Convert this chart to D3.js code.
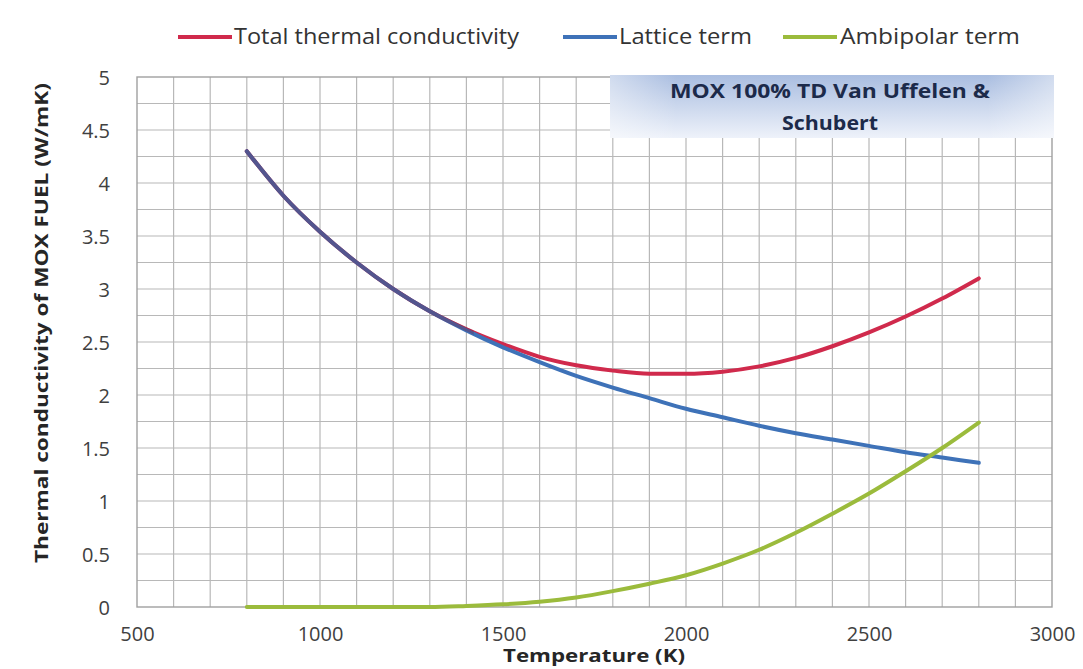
<!DOCTYPE html>
<html>
<head>
<meta charset="utf-8">
<script src="https://cdn.jsdelivr.net/npm/d3@7"></script>
<style>
  html, body { margin: 0; padding: 0; background: #fff; }
  svg { display: block; }
  text { font-family: "Open Sans", "Noto Sans", sans-serif; }
</style>
</head>
<body>
<svg id="chart" width="1083" height="669"></svg>
<script>
// Temperature samples (K)
const temperature = [800, 900, 1000, 1100, 1200, 1300, 1400, 1500, 1600, 1700, 1800,
                     1900, 2000, 2100, 2200, 2300, 2400, 2500, 2600, 2700, 2800];
// Conductivity terms (W/mK)
const totalConductivity = [4.30, 3.88, 3.54, 3.25, 3.00, 2.79, 2.62, 2.48, 2.36, 2.28, 2.23,
                           2.20, 2.20, 2.22, 2.27, 2.35, 2.46, 2.59, 2.74, 2.91, 3.10];
const latticeTerm = [4.30, 3.88, 3.54, 3.25, 3.00, 2.79, 2.61, 2.45, 2.31, 2.18, 2.07,
                     1.97, 1.87, 1.79, 1.71, 1.64, 1.58, 1.52, 1.46, 1.41, 1.36];
const ambipolarTerm = [0.00, 0.00, 0.00, 0.00, 0.00, 0.00, 0.01, 0.025, 0.05, 0.09, 0.15,
                       0.22, 0.30, 0.41, 0.54, 0.70, 0.88, 1.07, 1.28, 1.50, 1.74];

const xTicks = [500, 1000, 1500, 2000, 2500, 3000];
const yTicks = [0, 0.5, 1, 1.5, 2, 2.5, 3, 3.5, 4, 4.5, 5];
const seriesNames = ["Total thermal conductivity", "Lattice term", "Ambipolar term"];
const seriesColors = ["#d02a4c", "#3e72b8", "#9bbb3c"];
const boxTitle = ["MOX 100% TD Van Uffelen &", "Schubert"];
const xTitle = "Temperature (K)";
const yTitle = "Thermal conductivity of MOX FUEL (W/mK)";

const svg = d3.select("#chart");
const plot = { left: 137, right: 1052, top: 77, bottom: 607 };

const x = d3.scaleLinear().domain([500, 3000]).range([plot.left, plot.right]);
const y = d3.scaleLinear().domain([0, 5]).range([plot.bottom, plot.top]);

// Grid: every 100 K and every 0.25 W/mK
const grid = svg.append("g");
grid.selectAll("line.v").data(d3.range(600, 3000, 100)).join("line")
  .attr("x1", d => x(d)).attr("x2", d => x(d))
  .attr("y1", plot.top).attr("y2", plot.bottom)
  .attr("stroke", "#b8b8b8").attr("stroke-width", 1.2);
grid.selectAll("line.h").data(d3.range(0.25, 5, 0.25)).join("line")
  .attr("x1", plot.left).attr("x2", plot.right)
  .attr("y1", d => y(d)).attr("y2", d => y(d))
  .attr("stroke", "#b8b8b8").attr("stroke-width", 1.2);

// Plot frame
svg.append("rect")
  .attr("x", plot.left).attr("y", plot.top)
  .attr("width", plot.right - plot.left).attr("height", plot.bottom - plot.top)
  .attr("fill", "none").attr("stroke", "#a0a0a0").attr("stroke-width", 1.4);

// Axes (labels only)
const xAxis = svg.append("g")
  .attr("transform", `translate(0,${plot.bottom + 17})`)
  .call(d3.axisBottom(x).tickValues(xTicks).tickSize(0).tickFormat(d3.format("d")));
xAxis.select(".domain").remove();
xAxis.selectAll("text").attr("font-size", 20).attr("fill", "#404040")
  .attr("font-family", "'Open Sans', sans-serif");

const yAxis = svg.append("g")
  .attr("transform", `translate(${plot.left - 24},0)`)
  .call(d3.axisLeft(y).tickValues(yTicks).tickSize(0).tickFormat(d => String(d)));
yAxis.select(".domain").remove();
yAxis.selectAll("text").attr("font-size", 20).attr("fill", "#404040").attr("dy", "0.35em")
  .attr("font-family", "'Open Sans', sans-serif");

// Series lines
const defs = svg.append("defs");
defs.append("clipPath").attr("id", "overlapClip")
  .append("rect")
  .attr("x", plot.left).attr("y", plot.top)
  .attr("width", x(1420) - plot.left).attr("height", plot.bottom - plot.top);

const line = d3.line().curve(d3.curveMonotoneX);
const pts = vals => temperature.map((t, j) => [x(t), y(vals[j])]);
const drawSeries = (vals, color, opacity) =>
  svg.append("path")
    .attr("d", line(pts(vals)))
    .attr("fill", "none")
    .attr("stroke", color)
    .attr("stroke-opacity", opacity)
    .attr("stroke-width", 4)
    .attr("stroke-linecap", "round");
drawSeries(totalConductivity, seriesColors[0], 1);
drawSeries(latticeTerm, seriesColors[1], 1);
// where the total and lattice curves coincide they read as one slate line
drawSeries(totalConductivity, "#7a2040", 0.35).attr("clip-path", "url(#overlapClip)");
drawSeries(ambipolarTerm, seriesColors[2], 1);

// Title box
const grad = defs.append("linearGradient").attr("id", "boxFill")
  .attr("x1", 0).attr("y1", 0).attr("x2", 0).attr("y2", 1);
grad.append("stop").attr("offset", "0%").attr("stop-color", "#a9bde0");
grad.append("stop").attr("offset", "100%").attr("stop-color", "#eef2fa");
const gradH = defs.append("linearGradient").attr("id", "boxEdge")
  .attr("x1", 0).attr("y1", 0).attr("x2", 1).attr("y2", 0);
gradH.append("stop").attr("offset", "0%").attr("stop-color", "#fff").attr("stop-opacity", 0.45);
gradH.append("stop").attr("offset", "15%").attr("stop-color", "#fff").attr("stop-opacity", 0);
gradH.append("stop").attr("offset", "85%").attr("stop-color", "#fff").attr("stop-opacity", 0);
gradH.append("stop").attr("offset", "100%").attr("stop-color", "#fff").attr("stop-opacity", 0.45);
svg.append("rect")
  .attr("x", 610).attr("y", 75).attr("width", 444).attr("height", 63)
  .attr("fill", "url(#boxFill)");
svg.append("rect")
  .attr("x", 610).attr("y", 75).attr("width", 444).attr("height", 63)
  .attr("fill", "url(#boxEdge)");
const boxWidths = [320, 96];
svg.append("g").selectAll("text").data(boxTitle).join("text")
  .attr("x", 830).attr("y", (d, i) => 98 + i * 32)
  .attr("text-anchor", "middle")
  .attr("font-size", 19).attr("font-weight", "bold").attr("fill", "#1c2a4a")
  .attr("textLength", (d, i) => boxWidths[i]).attr("lengthAdjust", "spacingAndGlyphs")
  .text(d => d);

// Legend
const legendItems = [
  { x: 178, textX: 234, w: 285 },
  { x: 563, textX: 619, w: 133 },
  { x: 783, textX: 840, w: 180 }
];
const legend = svg.append("g");
legendItems.forEach((it, i) => {
  legend.append("line")
    .attr("x1", it.x).attr("x2", it.x + 54)
    .attr("y1", 37).attr("y2", 37)
    .attr("stroke", seriesColors[i]).attr("stroke-width", 4);
  legend.append("text")
    .attr("x", it.textX).attr("y", 37).attr("dy", "0.35em")
    .attr("font-size", 21).attr("fill", "#333")
    .attr("textLength", it.w).attr("lengthAdjust", "spacingAndGlyphs")
    .text(seriesNames[i]);
});

// Axis titles
svg.append("text")
  .attr("x", 594).attr("y", 662)
  .attr("text-anchor", "middle")
  .attr("font-size", 18).attr("font-weight", "bold").attr("fill", "#262626")
  .attr("textLength", 182).attr("lengthAdjust", "spacingAndGlyphs")
  .text(xTitle);
svg.append("text")
  .attr("transform", `translate(48,323) rotate(-90)`)
  .attr("text-anchor", "middle")
  .attr("font-size", 18).attr("font-weight", "bold").attr("fill", "#262626")
  .attr("textLength", 480).attr("lengthAdjust", "spacingAndGlyphs")
  .text(yTitle);
</script>
</body>
</html>
